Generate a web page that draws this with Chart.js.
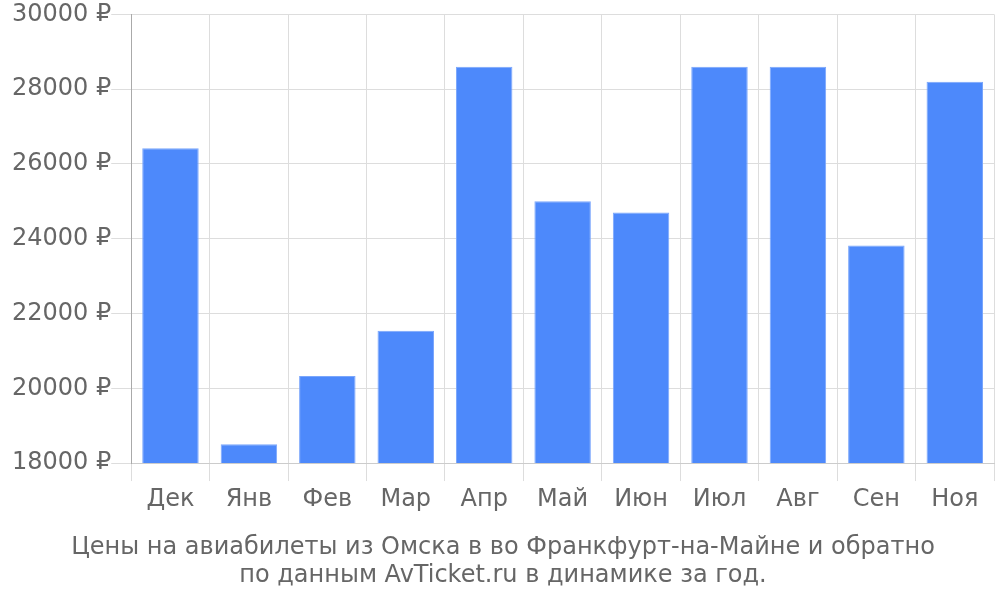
<!DOCTYPE html>
<html>
<head>
<meta charset="utf-8">
<script src="https://cdn.jsdelivr.net/npm/chart.js@4"></script>
<style>
  body { margin: 0; background: #fff; }
  #wrap { width: 1000px; height: 600px; }
</style>
</head>
<body>
<div id="wrap"><canvas id="myChart"></canvas></div>
<script>
let months = ['Дек', 'Янв', 'Фев', 'Мар', 'Апр', 'Май', 'Июн', 'Июл', 'Авг', 'Сен', 'Ноя'];
let prices = [26420, 18500, 20330, 21540, 28600, 25000, 24700, 28600, 28600, 23820, 28200];
let titleLines = ['Цены на авиабилеты из Омска в во Франкфурт-на-Майне и обратно', 'по данным AvTicket.ru в динамике за год.'];

let plot = () => {
  const ctx = document.getElementById('myChart');
  const dataset = {
    labels: months,
    datasets: [{
      label: 'Цена',
      data: prices,
      backgroundColor: '#4d89fb',
      borderColor: '#7aa6fc',
      borderWidth: 1
    }]
  };
  const config = {
    type: 'bar',
    data: dataset,
    options: {
      responsive: true,
      maintainAspectRatio: false,
      animation: false,
      layout: { padding: { top: 6, right: 6, left: 12 } },
      plugins: {
        legend: { display: false },
        tooltip: { enabled: false },
        title: {
          display: true,
          position: 'bottom',
          text: titleLines,
          color: '#666',
          font: { family: 'DejaVu Sans', size: 24, weight: 'normal', lineHeight: 1.17 },
          padding: { top: 16, bottom: 10 }
        }
      },
      scales: {
        x: {
          grid: { color: '#ddd', tickLength: 18, offset: true },
          border: { color: '#ccc' },
          ticks: { color: '#666', padding: 4, font: { family: 'DejaVu Sans', size: 24 } }
        },
        y: {
          min: 18000,
          max: 30000,
          grid: { color: '#ddd', tickLength: 20 },
          border: { color: '#aaa' },
          ticks: {
            stepSize: 2000,
            color: '#666',
            padding: 0,
            font: { family: 'DejaVu Sans', size: 24 },
            callback: (v) => v + ' ₽'
          }
        }
      }
    }
  };
  new Chart(ctx, config);
};

plot();
</script>
</body>
</html>
